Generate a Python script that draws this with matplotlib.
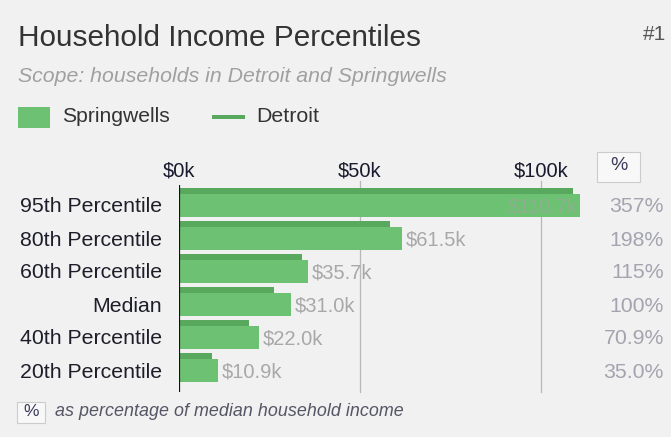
import matplotlib.pyplot as plt
from matplotlib.patches import Rectangle

# household income percentiles, in $k
percentiles = ['95th Percentile', '80th Percentile', '60th Percentile',
               'Median', '40th Percentile', '20th Percentile']
springwells = [110.7, 61.5, 35.7, 31.0, 22.0, 10.9]
detroit = [108.8, 58.3, 34.0, 26.3, 19.4, 9.2]
pct_of_median = ['357%', '198%', '115%', '100%', '70.9%', '35.0%']
ticks = [0, 50, 100]
tick_labels = ['$0k', '$50k', '$100k']

W, H = 671, 437
plt.rcParams['font.family'] = ['Liberation Sans', 'DejaVu Sans']

fig = plt.figure(figsize=(W / 100, H / 100), dpi=100)
fig.patch.set_facecolor('#f1f1f1')


def fx(px):
    return px / W


def fy(py):
    return 1 - py / H


# bar panel: x from 179px, 3.62 px per $1k; rows 33px apart
left, right, top, bottom = 179, 600, 185, 392
ax = fig.add_axes([fx(left), fy(bottom), fx(right - left), (bottom - top) / H])
ax.set_xlim(0, (right - left) / 3.62)
ax.set_ylim(5 + 20 / 33, -22 / 33)
ax.patch.set_alpha(0)
for s in ax.spines.values():
    s.set_visible(False)
ax.set_xticks([])
ax.set_yticks([])

rows = list(range(len(percentiles)))
sp_top, sp_h = -13 / 33, 23 / 33
dt_top, dt_h = -19 / 33, 6 / 33

for x in ticks[1:]:
    ax.plot([x, x], [-22 / 33 - 4 / 33, 5 + 20 / 33], color='#b8b8b8', lw=0.9,
            clip_on=False, zorder=1)

ax.barh([r + sp_top for r in rows], springwells, height=sp_h, align='edge',
        color='#6cc272', zorder=2)
ax.barh([r + dt_top for r in rows], detroit, height=dt_h, align='edge',
        color='#58a95e', zorder=2)
ax.axvline(0, color='#111111', lw=1.6, zorder=3)

for r, v in zip(rows, springwells):
    label = '$%.1fk' % v
    if v > 100:
        ax.text(v - 0.6, r, label, ha='right', va='center', fontsize=14.5,
                color='#8fae91', zorder=4)
    else:
        ax.text(v + 1.0, r, label, ha='left', va='center',
                fontsize=14.5, color='#a8a8a8', zorder=4)

# tick labels above the panel
for t, lab in zip(ticks, tick_labels):
    fig.text(fx(left + t * 3.62), fy(171), lab, ha='center', va='center',
             fontsize=14.5, color='#1a1a2e')

# category labels
for r, name in zip(rows, percentiles):
    fig.text(fx(162), fy(207 + r * 33), name, ha='right', va='center',
             fontsize=15.3, color='#1e1e2a')

# percent column
fig.patches.append(Rectangle((fx(597), fy(182)), fx(43), 30 / H,
                             transform=fig.transFigure, facecolor='#f8f8f8',
                             edgecolor='#cccccc', lw=0.8))
fig.text(fx(619), fy(166), '%', ha='center', va='center', fontsize=14,
         color='#3a3a5a')
for r, p in zip(rows, pct_of_median):
    fig.text(fx(664), fy(207 + r * 33), p, ha='right', va='center',
             fontsize=15.3, color='#a4a4b0')

# header
fig.text(fx(18), fy(38), 'Household Income Percentiles', ha='left',
         va='center', fontsize=21.4, color='#333333')
fig.text(fx(643), fy(34), '#1', ha='left', va='center', fontsize=15,
         color='#555555')
fig.text(fx(18), fy(77), 'Scope: households in Detroit and Springwells',
         ha='left', va='center', fontsize=15.3, style='italic', color='#a0a0a0')

# legend
fig.patches.append(Rectangle((fx(18), fy(128)), fx(32), 21 / H,
                             transform=fig.transFigure, facecolor='#6cc272',
                             edgecolor='none'))
fig.text(fx(62), fy(117), 'Springwells', ha='left', va='center',
         fontsize=15.2, color='#333333')
fig.patches.append(Rectangle((fx(212), fy(119)), fx(33), 4 / H,
                             transform=fig.transFigure, facecolor='#58a95e',
                             edgecolor='none'))
fig.text(fx(256), fy(117), 'Detroit', ha='left', va='center',
         fontsize=15.4, color='#333333')

# footnote
fig.patches.append(Rectangle((fx(17), fy(423)), fx(28), 21 / H,
                             transform=fig.transFigure, facecolor='#f8f8f8',
                             edgecolor='#cccccc', lw=0.8))
fig.text(fx(31), fy(412), '%', ha='center', va='center', fontsize=12.5,
         color='#3a3a5a')
fig.text(fx(55), fy(412), 'as percentage of median household income',
         ha='left', va='center', fontsize=12.9, style='italic', color='#555566')

fig.savefig('out.png', dpi=100, facecolor=fig.get_facecolor())
